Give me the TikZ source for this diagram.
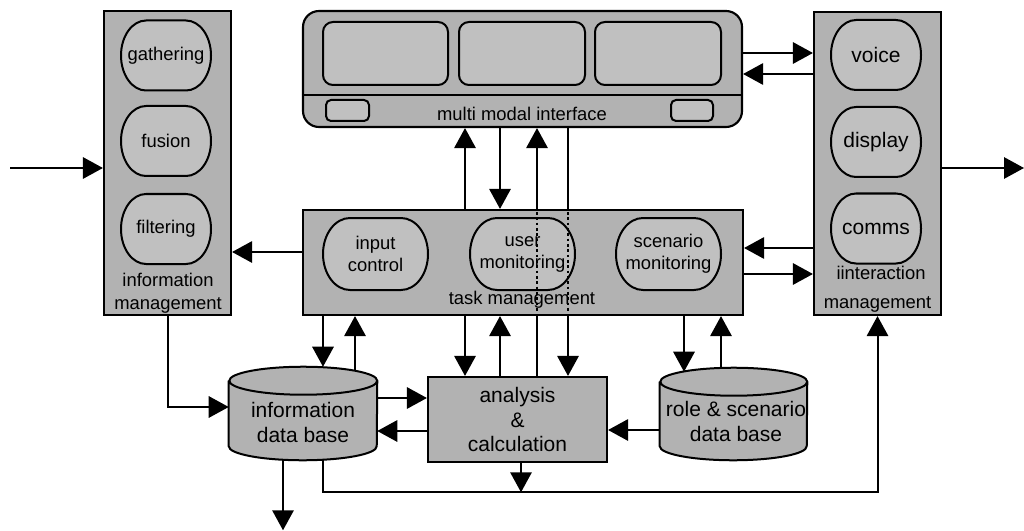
\documentclass[tikz,border=0pt]{standalone}
\usepackage{fontspec}
\setmainfont{Liberation Sans}
\usetikzlibrary{positioning,arrows.meta,backgrounds}
\definecolor{boxgray}{RGB}{178,178,178}
\definecolor{partgray}{RGB}{192,192,192}
\newcommand{\unitpx}{0.75pt}
\newcommand{\smallfs}{\fontsize{13.8}{16.5}\selectfont}
\newcommand{\bigfs}{\fontsize{15.75}{18.6}\selectfont}
\tikzstyle{mgmt}     = [rectangle, draw, line width=1.6pt, fill=boxgray, inner sep=0pt]
\tikzstyle{pillline} = [draw, line width=1.5pt, fill=partgray]
\tikzstyle{parttxt}  = [inner sep=0pt, align=center]
\tikzstyle{screen}   = [rectangle, draw, line width=1.5pt, fill=partgray, rounded corners=10*\unitpx, inner sep=0pt]
\tikzstyle{dbbox}    = [rectangle, inner sep=0pt]
\tikzstyle{lbl}      = [inner sep=0pt, align=center, font=\smallfs]
\tikzstyle{arr}      = [line width=1.5pt, -{Triangle[length=15pt, width=16pt]}]
\tikzstyle{dots}     = [line width=2pt, dotted]
% oval in a side column: [font] name, centre, text
\newcommand{\colpart}[4][\smallfs]{
  \draw[pillline] (#3) ++(-20,-35) -- ++(40,0) arc[start angle=-90, end angle=90, x radius=25, y radius=35]
    -- ++(-40,0) arc[start angle=90, end angle=270, x radius=25, y radius=35] -- cycle;
  \node[parttxt, font=#1] (#2) at (#3) {#4};
}
% oval in task management: name, centre, text
\newcommand{\jobpart}[3]{
  \draw[pillline] (#2) ++(-25.5,-36) -- ++(51,0) arc[start angle=-90, end angle=90, x radius=27, y radius=36]
    -- ++(-51,0) arc[start angle=90, end angle=270, x radius=27, y radius=36] -- cycle;
  \node[parttxt, font=\smallfs] (#1) at (#2) {#3};
}
% cylinder round a dbbox node: #1 node, #2 x radius
\newcommand{\cyl}[2]{
  \draw[line width=1.5pt, fill=boxgray] ([yshift=-14*\unitpx]#1.north west) -- ([yshift=14*\unitpx]#1.south west)
    arc[start angle=180, end angle=0, x radius=#2, y radius=14]
    -- ([yshift=-14*\unitpx]#1.north east)
    arc[start angle=0, end angle=-180, x radius=#2, y radius=14]
    arc[start angle=180, end angle=0, x radius=#2, y radius=14];
}

\begin{document}
\begin{tikzpicture}[x=\unitpx, y=-\unitpx]
	\useasboundingbox (0,0) rectangle (1024,531);

	% information management
	\node[mgmt, minimum width=127*\unitpx, minimum height=304*\unitpx] (info) at (167.5,163) {};
	\colpart{gath}{166,55.5}{gathering}
	\colpart{fus}{166,141}{fusion}
	\colpart{filt}{166,229}{filtering}
	\node[lbl, font=\fontsize{13.8}{17.25}\selectfont] (infolbl) at (168,293.5) {information\\management};

	% interaction management
	\node[mgmt, minimum width=127*\unitpx, minimum height=303*\unitpx] (inter) at (877.5,163.5) {};
	\colpart[\bigfs]{voice}{876,55}{voice}
	\colpart[\bigfs]{disp}{876,142}{display}
	\colpart[\bigfs]{comms}{876,228.5}{comms}
	\node[lbl] (interlbl) at (881,273) {iinteraction};
	\node[lbl] (interlbl2) at (877.5,304) {management};

	% multi modal interface
	\node[mgmt, rounded corners=16*\unitpx, minimum width=439*\unitpx, minimum height=116*\unitpx] (mmi) at (522.5,69) {};
	\coordinate (div) at (0,95);
	\draw[line width=1.6pt] (mmi.west |- div) -- (mmi.east |- div);
	\node[screen, minimum width=125*\unitpx, minimum height=63*\unitpx] (scr1) at (385.5,53.5) {};
	\node[screen, minimum width=126*\unitpx, minimum height=63*\unitpx] (scr2) at (522,53.5) {};
	\node[screen, minimum width=126*\unitpx, minimum height=63*\unitpx] (scr3) at (658,53.5) {};
	\node[screen, rounded corners=5*\unitpx, minimum width=43*\unitpx, minimum height=21*\unitpx] (btn1) at (347.5,110.5) {};
	\node[screen, rounded corners=5*\unitpx, minimum width=42*\unitpx, minimum height=21*\unitpx] (btn2) at (692,110.5) {};
	\node[lbl] (mmilbl) at (522,114) {multi modal interface};

	% task management
	\node[mgmt, minimum width=440*\unitpx, minimum height=105*\unitpx] (task) at (523,262.5) {};
	\jobpart{inctl}{375.5,254}{input\\control}
	\jobpart{usermon}{522.5,254}{user\\monitoring}
	\jobpart{scenmon}{668.5,254}{scenario\\monitoring}
	\node[lbl] (tasklbl) at (522,300) {task management};

	% data bases and analysis
	\node[dbbox, minimum width=148*\unitpx, minimum height=93*\unitpx] (idb) at (303,413.5) {};
	\cyl{idb}{74}
	\node[lbl, font=\fontsize{15.75}{18.75}\selectfont] (idblbl) at (303,422.5) {information\\data base};
	\node[dbbox, minimum width=147*\unitpx, minimum height=92*\unitpx] (rdb) at (733.5,414) {};
	\cyl{rdb}{73.5}
	\node[lbl, font=\fontsize{15.75}{18.75}\selectfont] (rdblbl) at (736,421) {role \& scenario\\data base};
	\node[mgmt, minimum width=179*\unitpx, minimum height=85*\unitpx, align=center,
	      font=\fontsize{15.75}{18.4}\selectfont] (calc) at (517.5,419.5) {analysis\\\&\\calculation};

	% connector ends
	\coordinate (src) at (10,168);
	\coordinate (sink) at (1024,168);
	\coordinate (m1) at ([yshift=16*\unitpx]mmi.east);
	\coordinate (m2) at ([yshift=-5*\unitpx]mmi.east);
	\coordinate (t1) at ([yshift=14.5*\unitpx]task.east);
	\coordinate (t2) at ([yshift=-11.5*\unitpx]task.east);
	\coordinate (t3) at ([yshift=10.5*\unitpx]task.west);
	\coordinate (v1) at ([xshift=-57.5*\unitpx]mmi.south);
	\coordinate (v2) at ([xshift=-22.5*\unitpx]mmi.south);
	\coordinate (v3) at ([xshift=14.5*\unitpx]mmi.south);
	\coordinate (v4) at ([xshift=45.5*\unitpx]mmi.south);
	\coordinate (d0) at ([yshift=6.5*\unitpx]idb.west);
	\coordinate (d1) at ([xshift=20*\unitpx]idb.north);
	\coordinate (d2) at ([xshift=52*\unitpx, yshift=-4*\unitpx]idb.north);
	\coordinate (r1) at ([xshift=-49.5*\unitpx, yshift=-4*\unitpx]rdb.north);
	\coordinate (r2) at ([xshift=-12.5*\unitpx]rdb.north);
	\coordinate (h1) at ([yshift=15.5*\unitpx]idb.east);
	\coordinate (h2) at ([yshift=-17.5*\unitpx]idb.east);
	\coordinate (h3) at ([yshift=-16*\unitpx]rdb.west);
	\coordinate (o1) at ([xshift=-20*\unitpx]idb.south);
	\coordinate (dump) at ([yshift=-70*\unitpx]o1);
	\coordinate (o2) at ([xshift=20*\unitpx]idb.south);
	\coordinate (bus) at ([yshift=-32*\unitpx]o2);
	\coordinate (c1) at ([xshift=3.5*\unitpx]calc.south);

	% lines that run behind task management
	\begin{pgfonlayer}{background}
		\draw[arr] (v3 |- calc.north) -- (v3);
		\draw[arr] (v4) -- (v4 |- calc.north);
	\end{pgfonlayer}
	\draw[dots] ([yshift=-3*\unitpx]v3 |- task.north) -- ([yshift=3*\unitpx]v3 |- task.south);
	\draw[dots] ([yshift=-3*\unitpx]v4 |- task.north) -- ([yshift=3*\unitpx]v4 |- task.south);

	\draw[arr] (src) -- (src -| info.west);
	\draw[arr] (sink -| inter.east) -- (sink);
	\draw[arr] (m1) -- (m1 -| inter.west);
	\draw[arr] (m2 -| inter.west) -- (m2);
	\draw[arr] (t1 -| inter.west) -- (t1);
	\draw[arr] (t2) -- (t2 -| inter.west);
	\draw[arr] (t3) -- (t3 -| info.east);

	\draw[arr] (v1 |- task.north) -- (v1);
	\draw[arr] (v2) -- (v2 |- task.north);
	\draw[arr] (v1 |- task.south) -- (v1 |- calc.north);
	\draw[arr] (v2 |- calc.north) -- (v2 |- task.south);

	\draw[arr] (d1 |- task.south) -- (d1);
	\draw[arr] (d2) -- (d2 |- task.south);
	\draw[arr] (r1 |- task.south) -- (r1);
	\draw[arr] (r2) -- (r2 |- task.south);

	\draw[arr] (info.south) |- (d0);
	\draw[arr] (h1) -- (h1 -| calc.west);
	\draw[arr] (h2 -| calc.west) -- (h2);
	\draw[arr] (h3) -- (h3 -| calc.east);

	\draw[arr] (o1) -- (dump);
	\draw[arr] (o2) -- (bus) -| (inter.south);
	\draw[arr] (c1) -- (c1 |- bus);
\end{tikzpicture}
\end{document}
